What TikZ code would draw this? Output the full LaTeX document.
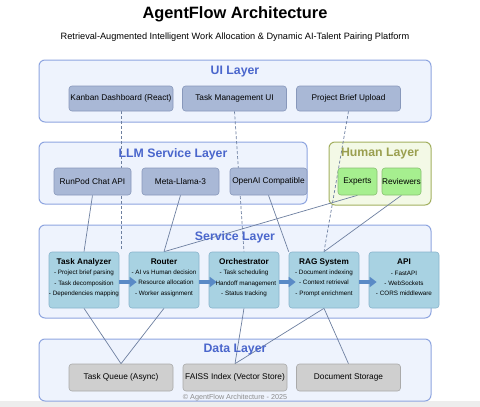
\documentclass[tikz,border=0pt]{standalone}
\usepackage{fontspec}
\setmainfont{Liberation Sans}
\usetikzlibrary{arrows.meta}
\pgfdeclarelayer{bg}
\pgfdeclarelayer{lines}
\pgfdeclarelayer{fg}
\pgfsetlayers{bg,lines,main,fg}
\definecolor{layerfill}{HTML}{EEF3FD}
\definecolor{layerline}{HTML}{8EA5E0}
\definecolor{layertitle}{HTML}{4A66CC}
\definecolor{humfill}{HTML}{F3F9E6}
\definecolor{humline}{HTML}{A3B060}
\definecolor{humtitle}{HTML}{9A9F4F}
\definecolor{uifill}{HTML}{A9B8D6}
\definecolor{uiline}{HTML}{8898BB}
\definecolor{hfill}{HTML}{A6EF8F}
\definecolor{hline}{HTML}{88C070}
\definecolor{sfill}{HTML}{A8D2E2}
\definecolor{sline}{HTML}{88B4CC}
\definecolor{dfill}{HTML}{CFCFCF}
\definecolor{dline}{HTML}{AAAAAA}
\definecolor{conn}{HTML}{6D7FA0}
\definecolor{flow}{HTML}{5A8AC6}
\tikzset{
  layer/.style={draw=layerline, fill=layerfill, rounded corners=6pt, line width=1pt, inner sep=0pt},
  humlayer/.style={draw=humline, fill=humfill, rounded corners=6pt, line width=1pt, inner sep=0pt},
  ltitle/.style={text=layertitle, font=\fontsize{12.3}{14}\selectfont\bfseries, inner sep=0pt},
  htitle/.style={text=humtitle, font=\fontsize{12.3}{14}\selectfont\bfseries, inner sep=0pt},
  uibox/.style={draw=uiline, fill=uifill, rounded corners=3pt, line width=0.6pt, minimum width=104pt, minimum height=25pt, inner sep=0pt, font=\fontsize{8.3}{10}\selectfont},
  llmbox/.style={uibox, minimum width=77pt, minimum height=27pt},
  hbox/.style={draw=hline, fill=hfill, rounded corners=3pt, line width=0.6pt, minimum width=39pt, minimum height=27pt, inner sep=0pt, font=\fontsize{8.3}{10}\selectfont},
  sbox/.style={draw=sline, fill=sfill, rounded corners=3pt, line width=0.6pt, minimum width=70pt, minimum height=56pt, inner sep=0pt},
  stext/.style={align=center, inner sep=0pt, font=\fontsize{6.3}{10.4}\selectfont},
  dbox/.style={draw=dline, fill=dfill, rounded corners=3pt, line width=0.6pt, minimum width=104pt, minimum height=27pt, inner sep=0pt, font=\fontsize{8.3}{10}\selectfont},
  link/.style={draw=conn, line width=0.7pt},
  dlink/.style={link, dash pattern=on 3pt off 2pt},
  flowarrow/.style={draw=flow, line width=4.5pt, -{Triangle[length=7pt,width=10pt]}},
}
\newcommand{\stitle}[1]{{\fontsize{8.2}{10.4}\selectfont\bfseries #1}}
\begin{document}
\begin{tikzpicture}[x=1pt,y=-1pt]
\useasboundingbox (0,0) rectangle (480,407);
\begin{pgfonlayer}{bg}
\fill[white] (0,0) rectangle (480,407);
\fill[black!7] (0,401) rectangle (480,407);
\node[layer, minimum width=392pt, minimum height=62pt] (uiL) at (235,91) {};
\node[layer, minimum width=268pt, minimum height=62pt] (llmL) at (173,173) {};
\node[humlayer, minimum width=102pt, minimum height=63pt] (humL) at (380,173.5) {};
\node[layer, minimum width=392pt, minimum height=93pt] (svcL) at (235,271.5) {};
\node[layer, minimum width=392pt, minimum height=62pt] (dataL) at (235,370) {};
\end{pgfonlayer}

% titles
\node[font=\fontsize{16.4}{19}\selectfont\bfseries, inner sep=0pt] (title) at (235,14) {AgentFlow Architecture};
\node[font=\fontsize{9.2}{11}\selectfont, inner sep=0pt] (subtitle) at (235,37) {Retrieval-Augmented Intelligent Work Allocation \& Dynamic AI-Talent Pairing Platform};

% layer titles
\node[ltitle] (uiT) at (235,72) {UI Layer};
\node[ltitle] (llmT) at (173,154) {LLM Service Layer};
\node[htitle] (humT) at (380,154) {Human Layer};
\node[ltitle] (svcT) at (235,237) {Service Layer};
\node[ltitle] (dataT) at (235,350) {Data Layer};

% boxes
\node[uibox] (kanban) at (121,98.5) {Kanban Dashboard (React)};
\node[uibox] (tm) at (234.5,98.5) {Task Management UI};
\node[uibox] (pb) at (348.5,98.5) {Project Brief Upload};
\node[llmbox] (runpod) at (92.5,181.5) {RunPod Chat API};
\node[llmbox] (meta) at (180.5,181.5) {Meta-Llama-3};
\node[llmbox] (openai) at (268.5,181.5) {OpenAI Compatible};
\node[hbox] (experts) at (357.5,181.5) {Experts};
\node[hbox] (reviewers) at (401.5,181.5) {Reviewers};
\node[sbox] (ta) at (84,280) {};
\node[sbox] (router) at (164,280) {};
\node[sbox] (orch) at (244,280) {};
\node[sbox] (rag) at (324,280) {};
\node[sbox] (api) at (404,280) {};
\node[dbox] (tq) at (121,377.5) {Task Queue (Async)};
\node[dbox] (faiss) at (235,377.5) {FAISS Index (Vector Store)};
\node[dbox] (docs) at (348.5,377.5) {Document Storage};

% service box texts
\node[stext] (taT) at (84,277.5) {\stitle{Task Analyzer}\\- Project brief parsing\\- Task decomposition\\- Dependencies mapping};
\node[stext] (routerT) at (164,277.5) {\stitle{Router}\\- AI vs Human decision\\- Resource allocation\\- Worker assignment};
\node[stext] (orchT) at (244,277.5) {\stitle{Orchestrator}\\- Task scheduling\\- Handoff management\\- Status tracking};
\node[stext] (ragT) at (324,277.5) {\stitle{RAG System}\\- Document indexing\\- Context retrieval\\- Prompt enrichment};
\node[stext] (apiT) at (404,277.5) {\stitle{API}\\- FastAPI\\- WebSockets\\- CORS middleware};

\coordinate (kanbanEnd) at (121,251);

% connectors
\begin{pgfonlayer}{lines}
\draw[dlink] (kanban.south) -- (kanbanEnd);
\draw[dlink] (tm.south) -- (orch.north);
\draw[dlink] (pb.south) -- (rag.north);
\draw[link] (runpod.south) -- (ta.north);
\draw[link] (meta.south) -- (router.north);
\draw[link] (openai.south) -- (rag.north west);
\draw[link] (experts.south) -- (router.north);
\draw[link] (reviewers.south) -- (rag.north);
\draw[link] (ta.south) -- (tq.north);
\draw[link] (router.south) -- (tq.north);
\draw[link] (orch.south) -- (faiss.north);
\draw[link] (rag.south) -- (faiss.north);
\draw[link] (rag.south) -- (docs.north);
\end{pgfonlayer}

% flow arrows
\begin{pgfonlayer}{fg}
\draw[flowarrow] ([yshift=-2pt]ta.east) -- ([xshift=8pt,yshift=-2pt]router.west);
\draw[flowarrow] ([yshift=-2pt]router.east) -- ([xshift=8pt,yshift=-2pt]orch.west);
\draw[flowarrow] ([yshift=-2pt]orch.east) -- ([xshift=7pt,yshift=-2pt]rag.west);
\draw[flowarrow] ([yshift=-2pt]rag.east) -- ([xshift=8pt,yshift=-2pt]api.west);
\node[text=black!45, font=\fontsize{7.2}{9}\selectfont, inner sep=0pt] (copy) at (235,398) {\textcopyright{} AgentFlow Architecture - 2025};
\end{pgfonlayer}
\end{tikzpicture}
\end{document}
